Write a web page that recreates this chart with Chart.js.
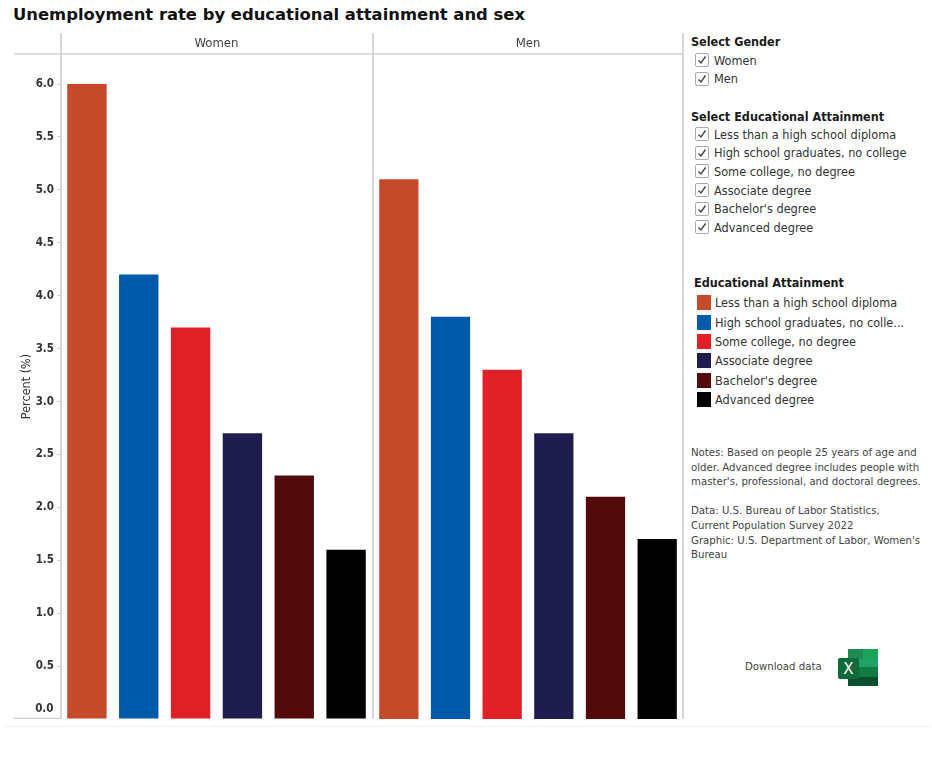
<!DOCTYPE html>
<html>
<head>
<meta charset="utf-8">
<title>Unemployment rate by educational attainment and sex</title>
<script src="https://cdn.jsdelivr.net/npm/chart.js@4/dist/chart.umd.min.js"></script>
<style>
    html, body { margin: 0; padding: 0; background: #fff; }
    body { position: relative; width: 932px; height: 774px; overflow: hidden; font-family: "DejaVu Sans Condensed", "DejaVu Sans", sans-serif; color: #333; }
    canvas { position: absolute; top: 33px; }
    h1 { position: absolute; left: 13px; top: 5px; margin: 0; font: bold 16.4px "DejaVu Sans", sans-serif; color: #111; white-space: nowrap; }
    .block { position: absolute; white-space: nowrap; }
    .head { font-weight: bold; font-size: 12.5px; color: #1a1a1a; height: 18px; line-height: 18px; }
    .row { display: flex; align-items: center; height: 18.6px; font-size: 12.6px; }
    .box { width: 12px; height: 12px; border: 1.5px solid #aaa; border-radius: 2px; margin: 0 5px 0 4px; display: inline-block; box-sizing: content-box; position: relative; }
    .box svg { position: absolute; left: 1px; top: 1px; }
    .swatch { width: 14px; height: 15px; margin: 0 4px 0 3px; }
    .notes { font-size: 11.3px; line-height: 14.6px; color: #444; }
    #rule { position: absolute; left: 5px; top: 726px; width: 925px; height: 1px; background: #eee; }
</style>
</head>
<body>
<h1>Unemployment rate by educational attainment and sex</h1>
<canvas id="womenChart" width="374" height="686" style="left:0"></canvas>
<canvas id="menChart" width="312" height="686" style="left:372px"></canvas>

<div class="block" style="left:691px;top:33px">
    <div class="head">Select Gender</div>
    <div id="genderBoxes"></div>
</div>
<div class="block" style="left:691px;top:107px">
    <div class="head" style="position:relative;top:1px">Select Educational Attainment</div>
    <div id="educationBoxes"></div>
</div>
<div class="block" style="left:694px;top:274px">
    <div class="head">Educational Attainment</div>
    <div id="legendRows" style="margin-top:1px"></div>
</div>
<div class="block notes" style="left:691px;top:446px">
    Notes: Based on people 25 years of age and<br>
    older. Advanced degree includes people with<br>
    master's, professional, and doctoral degrees.<br>
    <br>
    Data: U.S. Bureau of Labor Statistics,<br>
    Current Population Survey 2022<br>
    Graphic: U.S. Department of Labor, Women's<br>
    Bureau
</div>
<div class="block" style="left:745px;top:660px;font-size:11.3px;color:#444">Download data</div>
<svg style="position:absolute;left:838px;top:649px" width="40" height="38" viewBox="0 0 40 38">
    <rect x="10" y="0" width="30" height="37" rx="2" fill="#21a366"/>
    <rect x="10" y="0" width="15" height="10" fill="#1b8a55"/>
    <rect x="25" y="0" width="15" height="10" fill="#18a558"/>
    <rect x="10" y="18" width="15" height="10" fill="#107c41"/>
    <rect x="25" y="18" width="15" height="10" fill="#107c41"/>
    <rect x="10" y="28" width="30" height="9" fill="#0b4f2c"/>
    <rect x="0" y="9" width="21" height="21" rx="2" fill="#0e6a3a"/>
    <text x="10.5" y="25" text-anchor="middle" font-family="DejaVu Sans" font-size="15" fill="#fff">X</text>
</svg>
<div id="rule"></div>

<script>
var genders = ['Women', 'Men'];
var categories = ['Less than a high school diploma', 'High school graduates, no college', 'Some college, no degree', 'Associate degree', "Bachelor's degree", 'Advanced degree'];
var legendLabels = ['Less than a high school diploma', 'High school graduates, no colle...', 'Some college, no degree', 'Associate degree', "Bachelor's degree", 'Advanced degree'];
var womenValues = [6.0, 4.2, 3.7, 2.7, 2.3, 1.6];
var menValues = [5.1, 3.8, 3.3, 2.7, 2.1, 1.7];
var barColors = ['#c44a29', '#0058a8', '#df2027', '#1f1c4e', '#530a0d', '#000000'];
var yTicks = [0, 0.5, 1, 1.5, 2, 2.5, 3, 3.5, 4, 4.5, 5, 5.5, 6];

var lineColor = '#cfcfcf';
var tickFont = { family: '"DejaVu Sans Condensed"', size: 11.5, weight: 'bold' };

function hline(ctx, x1, x2, y) {
    ctx.beginPath(); ctx.moveTo(x1, y); ctx.lineTo(x2, y); ctx.stroke();
}
function vline(ctx, x, y1, y2) {
    ctx.beginPath(); ctx.moveTo(x, y1); ctx.lineTo(x, y2); ctx.stroke();
}

// panel lines run past the chart area into the header band
var panelFrame = {
    id: 'panelFrame',
    afterDraw: function(chart) {
        var ctx = chart.ctx, a = chart.chartArea;
        ctx.save();
        ctx.strokeStyle = lineColor;
        ctx.lineWidth = 1.6;
        if (chart.canvas.id === 'womenChart') {
            hline(ctx, 14, chart.width, a.top);
            hline(ctx, 14, a.left, a.bottom - 0.5);
            vline(ctx, a.left, 0, a.bottom);
            // the 0.0 label sits above its tick in the original
            ctx.fillStyle = '#333';
            ctx.font = 'bold 11.5px "DejaVu Sans Condensed"';
            ctx.textAlign = 'right';
            ctx.textBaseline = 'middle';
            ctx.fillText(yTicks[0].toFixed(1), a.left - 7.5, chart.scales.y.getPixelForValue(yTicks[0]) - 10);
        } else {
            hline(ctx, 0, a.right, a.top);
            vline(ctx, a.left, 0, a.bottom);
            vline(ctx, a.right, 0, a.bottom);
        }
        ctx.restore();
    }
};

function makePanel(id, name, values, showAxis) {
    return new Chart(document.getElementById(id), {
        type: 'bar',
        data: {
            labels: categories,
            datasets: [{
                label: name,
                data: values,
                backgroundColor: barColors,
                barPercentage: 0.76,
                categoryPercentage: 1
            }]
        },
        options: {
            responsive: false,
            animation: false,
            layout: { padding: { left: showAxis ? 19 : 1, right: showAxis ? 2 : 1, top: 0, bottom: 0 } },
            plugins: { legend: { display: false }, title: { display: false }, tooltip: { enabled: false } },
            scales: {
                x: {
                    position: 'top',
                    grid: { display: false },
                    border: { display: false },
                    ticks: { display: false },
                    title: { display: true, text: name, color: '#444', font: { family: '"DejaVu Sans Condensed"', size: 13 }, padding: { top: 3, bottom: 0 } },
                    afterFit: function(scale) { scale.height = 21; }
                },
                y: {
                    display: showAxis,
                    min: 0,
                    max: 6.284,
                    afterBuildTicks: function(scale) {
                        scale.ticks = yTicks.map(function(v) { return { value: v }; });
                    },
                    afterFit: function(scale) {
                        scale.width = showAxis ? 42 : 0;
                        scale.paddingTop = 0;
                        scale.paddingBottom = 0;
                    },
                    border: { display: false },
                    grid: {
                        drawOnChartArea: false,
                        tickLength: 4,
                        tickColor: function(c) { return c.tick && c.tick.value === 0 ? 'rgba(0,0,0,0)' : lineColor; }
                    },
                    ticks: {
                        color: '#333',
                        font: tickFont,
                        padding: 3,
                        callback: function(v) { return v === 0 ? '' : Number(v).toFixed(1); }
                    },
                    title: { display: true, text: 'Percent (%)', color: '#333', font: { family: '"DejaVu Sans Condensed"', size: 12.5 }, padding: { top: 0, bottom: 0 } }
                }
            }
        },
        plugins: [panelFrame]
    });
}

makePanel('womenChart', genders[0], womenValues, true);
makePanel('menChart', genders[1], menValues, false);

function addCheckRows(holderId, labels) {
    var holder = document.getElementById(holderId);
    labels.forEach(function(label) {
        var row = document.createElement('div');
        row.className = 'row';
        row.innerHTML = '<span class="box"><svg width="10" height="10" viewBox="0 0 10 10"><path d="M1.5 5.5 L4 8 L8.5 1.5" fill="none" stroke="#444" stroke-width="1.4"/></svg></span>';
        row.appendChild(document.createTextNode(label));
        holder.appendChild(row);
    });
}
addCheckRows('genderBoxes', genders);
addCheckRows('educationBoxes', categories);

legendLabels.forEach(function(label, i) {
    var row = document.createElement('div');
    row.className = 'row';
    row.style.height = '19.4px';
    var sw = document.createElement('span');
    sw.className = 'swatch';
    sw.style.background = barColors[i];
    row.appendChild(sw);
    row.appendChild(document.createTextNode(label));
    document.getElementById('legendRows').appendChild(row);
});
</script>
</body>
</html>
